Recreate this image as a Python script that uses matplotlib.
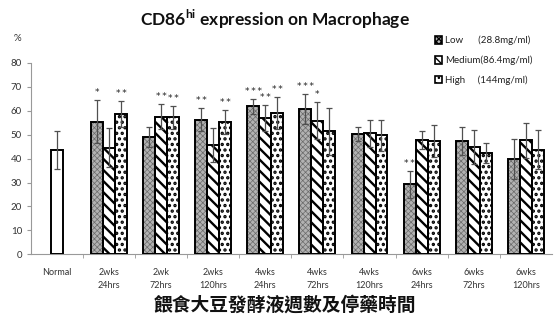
import matplotlib
matplotlib.use("Agg")
import matplotlib.pyplot as plt
from matplotlib.patches import Patch
import numpy as np

# group labels along the x axis
groups = ["Normal", "2wks\n24hrs", "2wk\n72hrs", "2wks\n120hrs", "4wks\n24hrs",
          "4wks\n72hrs", "4wks\n120hrs", "6wks\n24hrs", "6wks\n72hrs", "6wks\n120hrs"]

normal_mean = 43.7
normal_err = 8.0

# CD86hi % for each dose group (Normal excluded)
low_mean = [55.4, 49.0, 56.2, 61.8, 60.7, 50.2, 29.3, 47.3, 39.7]
low_err = [9.0, 4.3, 4.8, 3.1, 6.1, 2.9, 5.7, 5.8, 8.4]
med_mean = [44.6, 57.5, 45.6, 56.9, 55.8, 50.6, 47.8, 44.9, 47.6]
med_err = [8.0, 5.3, 7.0, 5.6, 7.8, 5.6, 3.8, 7.0, 7.4]
high_mean = [58.6, 57.2, 55.2, 59.1, 51.3, 49.7, 47.3, 42.4, 43.7]
high_err = [5.3, 4.9, 5.0, 6.7, 9.8, 6.5, 6.7, 4.2, 8.2]

# significance marks above each bar
low_sig = ["*", "", "**", "***", "***", "", "**", "", ""]
med_sig = ["", "**", "", "**", "*", "", "", "", ""]
high_sig = ["**", "**", "**", "**", "", "", "", "", ""]

legend_labels = ["Low      (28.8mg/ml)", "Medium(86.4mg/ml)", "High     (144mg/ml)"]

plt.rcParams["font.family"] = ["Lato", "DejaVu Sans"]

fig = plt.figure(figsize=(5.54, 3.2), dpi=100)
ax = fig.add_axes([0.056, 0.205, 0.94, 0.599])

w = 0.23
styles = [
    dict(face="#b2b2b2", hatch="xxxxxx", hcol="#6a6a6a", hlw=0.5),
    dict(face="white", hatch="\\\\\\", hcol="black", hlw=1.7),
    dict(face="white", hatch="...", hcol="black", hlw=1.6),
]


def hatched_bars(x, h, st):
    ax.bar(x, h, w, color=st["face"], linewidth=0, zorder=2)
    with plt.rc_context({"hatch.linewidth": st["hlw"]}):
        hb = ax.bar(x, h, w, fill=False, hatch=st["hatch"], edgecolor=st["hcol"],
                    linewidth=0, zorder=3)
        for p in hb:
            if hasattr(p, "set_hatch_linewidth"):
                p.set_hatch_linewidth(st["hlw"])
    ax.bar(x, h, w, fill=False, edgecolor="black", linewidth=1.4, zorder=4)


ekw = dict(fmt="none", ecolor="#505050", elinewidth=0.9, capsize=2.2, capthick=0.9, zorder=5)

# Normal control
ax.bar(0, normal_mean, w, color="white", edgecolor="black", linewidth=1.4, zorder=4)
ax.errorbar(0, normal_mean, yerr=normal_err, **ekw)

xg = np.arange(1, len(groups))
series = [(low_mean, low_err, low_sig), (med_mean, med_err, med_sig), (high_mean, high_err, high_sig)]
for i, (m, e, sig) in enumerate(series):
    xs = xg + (i - 1) * w
    hatched_bars(xs, m, styles[i])
    ax.errorbar(xs, m, yerr=e, **ekw)
    for xi, mi, ei, s in zip(xs, m, e, sig):
        if s:
            ax.text(xi, mi + ei + 1.2, "\u2009".join(s), ha="center", va="bottom",
                    fontsize=6.5, color="#222222", family="DejaVu Sans", zorder=6)

# legend handles
handles = [Patch(facecolor=st["face"], edgecolor="black", hatch=st["hatch"], linewidth=1.2)
           for st in styles]
ax.legend(handles, legend_labels, loc="upper left", bbox_to_anchor=(0.775, 1.14),
          frameon=False, fontsize=7, handlelength=0.8, handleheight=0.8,
          handletextpad=0.3, labelspacing=1.05, labelcolor="#222222",
          borderaxespad=0, borderpad=0)

ax.set_xlim(-0.5, len(groups) - 0.5)
ax.set_ylim(0, 80)
ax.set_yticks(range(0, 81, 10))
ax.set_xticks(range(len(groups)))
ax.set_xticklabels(groups, fontsize=6.5, color="#333333", linespacing=1.5)
ax.set_xticks(np.arange(0.5, len(groups) - 0.5, 1), minor=True)
ax.tick_params(axis="x", which="major", length=0, pad=10)
ax.tick_params(axis="x", which="minor", length=3, color="#999999")
ax.tick_params(axis="y", labelsize=7, labelcolor="#333333", length=3, color="#999999")
for s in ["top", "right"]:
    ax.spines[s].set_visible(False)
for s in ["left", "bottom"]:
    ax.spines[s].set_color("#999999")
    ax.spines[s].set_linewidth(0.8)

fig.text(0.497, 0.94, "CD86$^{\\mathregular{hi}}$ expression on Macrophage", ha="center",
         va="center", fontsize=12.5, fontweight="bold", color="#111111")
fig.text(0.025, 0.88, "%", fontsize=7, color="#333333", ha="left", va="center")
fig.text(0.515, 0.045, "餵食大豆發酵液週數及停藥時間", ha="center", va="center",
         fontsize=13.5, fontweight="bold", family=["Noto Sans CJK TC", "DejaVu Sans"],
         color="#111111")

fig.savefig("out.png", dpi=100)
